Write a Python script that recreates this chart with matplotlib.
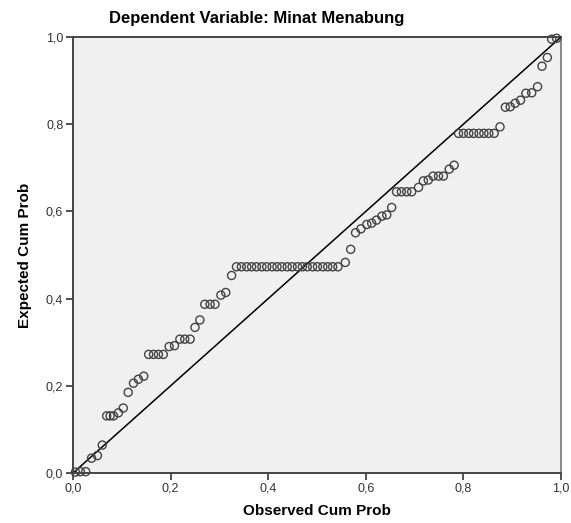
import matplotlib
matplotlib.use('Agg')
import matplotlib.pyplot as plt

plt.rcParams['font.family'] = ['Liberation Sans', 'DejaVu Sans']

title = "Dependent Variable: Minat Menabung"
x_label = "Observed Cum Prob"
y_label = "Expected Cum Prob"
tick_values = [0.0, 0.2, 0.4, 0.6, 0.8, 1.0]
tick_labels = ["0,0", "0,2", "0,4", "0,6", "0,8", "1,0"]

# observed cum prob (x) and expected cum prob (y)
observed = [0.005, 0.015, 0.026, 0.038, 0.050, 0.060, 0.069, 0.076, 0.083, 0.093,
            0.103, 0.113, 0.124, 0.134, 0.145, 0.155, 0.165, 0.175, 0.185, 0.197,
            0.208, 0.219, 0.229, 0.240, 0.250, 0.260, 0.270, 0.281, 0.291, 0.303,
            0.313, 0.325,
            0.335, 0.345, 0.356, 0.366, 0.376, 0.387, 0.397, 0.408, 0.418, 0.428,
            0.439, 0.449, 0.460, 0.470, 0.480, 0.491, 0.501, 0.512, 0.522, 0.532,
            0.543,
            0.558, 0.569, 0.579, 0.590, 0.602, 0.612, 0.622, 0.633, 0.643, 0.653,
            0.663, 0.673, 0.684, 0.694, 0.708, 0.718, 0.728, 0.738, 0.749, 0.759,
            0.771, 0.781,
            0.790, 0.800, 0.811, 0.821, 0.832, 0.842, 0.852, 0.863,
            0.875, 0.886, 0.896, 0.906, 0.917, 0.928, 0.940, 0.952, 0.961, 0.972,
            0.981, 0.991]
expected = [0.002, 0.003, 0.003, 0.034, 0.040, 0.064, 0.131, 0.131, 0.131, 0.138,
            0.149, 0.185, 0.206, 0.215, 0.222, 0.272, 0.272, 0.272, 0.272, 0.290,
            0.292, 0.307, 0.307, 0.307, 0.334, 0.351, 0.387, 0.387, 0.387, 0.408,
            0.414, 0.453,
            0.473, 0.473, 0.473, 0.473, 0.473, 0.473, 0.473, 0.473, 0.473, 0.473,
            0.473, 0.473, 0.473, 0.473, 0.473, 0.473, 0.473, 0.473, 0.473, 0.473,
            0.473,
            0.483, 0.513, 0.551, 0.560, 0.570, 0.573, 0.580, 0.589, 0.592, 0.609,
            0.645, 0.645, 0.645, 0.645, 0.655, 0.670, 0.672, 0.681, 0.681, 0.681,
            0.697, 0.706,
            0.779, 0.779, 0.779, 0.779, 0.779, 0.779, 0.779, 0.779,
            0.794, 0.839, 0.840, 0.848, 0.855, 0.871, 0.872, 0.886, 0.933, 0.953,
            0.995, 0.997]

fig = plt.figure(figsize=(5.71, 5.23), dpi=100)
ax = fig.add_axes([73/571, 50/523, 488/571, 436/523])
ax.set_facecolor('#f0f0f0')

ax.plot([0, 1], [0, 1], color='black', lw=1.1, zorder=2)
ax.scatter(observed, expected, s=34, facecolors='none', edgecolors='#444444',
           linewidths=1.0, zorder=3, clip_on=False)

ax.set_xlim(0, 1)
ax.set_ylim(0, 1)
ax.set_xticks(tick_values)
ax.set_xticklabels(tick_labels)
ax.set_yticks(tick_values)
ax.set_yticklabels(tick_labels)
ax.tick_params(direction='out', length=5, width=1.2, colors='#333333',
               labelsize=9, pad=2)

for side in ['left', 'bottom', 'top']:
    ax.spines[side].set_color('#444444')
    ax.spines[side].set_linewidth(1.4)
ax.spines['right'].set_color('#777777')
ax.spines['right'].set_linewidth(1.2)

ax.set_xlabel(x_label, fontsize=11, fontweight='bold', labelpad=7)
ax.set_ylabel(y_label, fontsize=11, fontweight='bold', labelpad=10)
fig.text(257/571, 1 - 18/523, title, fontsize=12, fontweight='bold',
         ha='center', va='center')

fig.savefig('out.png', dpi=100, facecolor='white')
